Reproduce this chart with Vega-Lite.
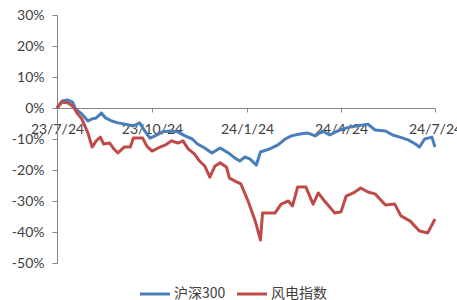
{
  "$schema": "https://vega.github.io/schema/vega-lite/v6.json",
  "width": 378,
  "height": 248,
  "autosize": {"type": "none"},
  "padding": {"left": 57, "top": 15, "right": 22, "bottom": 37},
  "background": "white",
  "config": {"view": {"stroke": null}, "font": "Lato"},
  "data": {"values": [
    {"date": "2023-07-24", "series": "沪深300", "value": 0.0},
    {"date": "2023-07-29", "series": "沪深300", "value": 2.3},
    {"date": "2023-08-03", "series": "沪深300", "value": 2.6},
    {"date": "2023-08-08", "series": "沪深300", "value": 1.9},
    {"date": "2023-08-11", "series": "沪深300", "value": -0.3},
    {"date": "2023-08-17", "series": "沪深300", "value": -1.9},
    {"date": "2023-08-23", "series": "沪深300", "value": -4.2},
    {"date": "2023-08-27", "series": "沪深300", "value": -3.5},
    {"date": "2023-08-31", "series": "沪深300", "value": -3.2},
    {"date": "2023-09-05", "series": "沪深300", "value": -1.6},
    {"date": "2023-09-09", "series": "沪深300", "value": -3.2},
    {"date": "2023-09-15", "series": "沪深300", "value": -4.2},
    {"date": "2023-09-21", "series": "沪深300", "value": -4.8},
    {"date": "2023-09-28", "series": "沪深300", "value": -5.2},
    {"date": "2023-10-06", "series": "沪深300", "value": -5.8},
    {"date": "2023-10-12", "series": "沪深300", "value": -4.8},
    {"date": "2023-10-17", "series": "沪深300", "value": -7.4},
    {"date": "2023-10-22", "series": "沪深300", "value": -9.7},
    {"date": "2023-10-27", "series": "沪深300", "value": -9.0},
    {"date": "2023-11-03", "series": "沪深300", "value": -7.7},
    {"date": "2023-11-10", "series": "沪深300", "value": -7.4},
    {"date": "2023-11-18", "series": "沪深300", "value": -7.7},
    {"date": "2023-11-25", "series": "沪深300", "value": -9.0},
    {"date": "2023-12-02", "series": "沪深300", "value": -10.0},
    {"date": "2023-12-07", "series": "沪深300", "value": -11.6},
    {"date": "2023-12-14", "series": "沪深300", "value": -12.9},
    {"date": "2023-12-21", "series": "沪深300", "value": -14.5},
    {"date": "2023-12-29", "series": "沪深300", "value": -12.9},
    {"date": "2024-01-06", "series": "沪深300", "value": -14.5},
    {"date": "2024-01-12", "series": "沪深300", "value": -16.1},
    {"date": "2024-01-17", "series": "沪深300", "value": -17.1},
    {"date": "2024-01-22", "series": "沪深300", "value": -15.8},
    {"date": "2024-01-27", "series": "沪深300", "value": -16.5},
    {"date": "2024-02-02", "series": "沪深300", "value": -18.4},
    {"date": "2024-02-06", "series": "沪深300", "value": -14.2},
    {"date": "2024-02-15", "series": "沪深300", "value": -13.2},
    {"date": "2024-02-23", "series": "沪深300", "value": -11.9},
    {"date": "2024-03-01", "series": "沪深300", "value": -10.0},
    {"date": "2024-03-07", "series": "沪深300", "value": -9.0},
    {"date": "2024-03-15", "series": "沪深300", "value": -8.4},
    {"date": "2024-03-23", "series": "沪深300", "value": -8.1},
    {"date": "2024-03-30", "series": "沪深300", "value": -9.0},
    {"date": "2024-04-06", "series": "沪深300", "value": -7.4},
    {"date": "2024-04-13", "series": "沪深300", "value": -8.7},
    {"date": "2024-04-19", "series": "沪深300", "value": -7.7},
    {"date": "2024-04-25", "series": "沪深300", "value": -6.8},
    {"date": "2024-05-03", "series": "沪深300", "value": -6.1},
    {"date": "2024-05-09", "series": "沪深300", "value": -5.8},
    {"date": "2024-05-20", "series": "沪深300", "value": -5.2},
    {"date": "2024-05-27", "series": "沪深300", "value": -7.1},
    {"date": "2024-06-06", "series": "沪深300", "value": -7.4},
    {"date": "2024-06-13", "series": "沪深300", "value": -8.7},
    {"date": "2024-06-20", "series": "沪深300", "value": -9.4},
    {"date": "2024-06-28", "series": "沪深300", "value": -10.3},
    {"date": "2024-07-05", "series": "沪深300", "value": -11.6},
    {"date": "2024-07-09", "series": "沪深300", "value": -12.6},
    {"date": "2024-07-14", "series": "沪深300", "value": -10.0},
    {"date": "2024-07-21", "series": "沪深300", "value": -9.4},
    {"date": "2024-07-24", "series": "沪深300", "value": -12.6},
    {"date": "2023-07-24", "series": "风电指数", "value": 0.0},
    {"date": "2023-07-29", "series": "风电指数", "value": 1.9},
    {"date": "2023-08-04", "series": "风电指数", "value": 1.6},
    {"date": "2023-08-09", "series": "风电指数", "value": 0.3},
    {"date": "2023-08-13", "series": "风电指数", "value": -1.9},
    {"date": "2023-08-17", "series": "风电指数", "value": -3.5},
    {"date": "2023-08-23", "series": "风电指数", "value": -8.1},
    {"date": "2023-08-27", "series": "风电指数", "value": -12.6},
    {"date": "2023-08-31", "series": "风电指数", "value": -10.6},
    {"date": "2023-09-04", "series": "风电指数", "value": -9.4},
    {"date": "2023-09-07", "series": "风电指数", "value": -11.6},
    {"date": "2023-09-13", "series": "风电指数", "value": -11.3},
    {"date": "2023-09-17", "series": "风电指数", "value": -13.2},
    {"date": "2023-09-21", "series": "风电指数", "value": -14.5},
    {"date": "2023-09-27", "series": "风电指数", "value": -12.6},
    {"date": "2023-10-03", "series": "风电指数", "value": -12.6},
    {"date": "2023-10-06", "series": "风电指数", "value": -9.7},
    {"date": "2023-10-15", "series": "风电指数", "value": -9.7},
    {"date": "2023-10-19", "series": "风电指数", "value": -12.3},
    {"date": "2023-10-24", "series": "风电指数", "value": -13.9},
    {"date": "2023-10-30", "series": "风电指数", "value": -12.9},
    {"date": "2023-11-06", "series": "风电指数", "value": -11.9},
    {"date": "2023-11-12", "series": "风电指数", "value": -10.6},
    {"date": "2023-11-18", "series": "风电指数", "value": -11.3},
    {"date": "2023-11-23", "series": "风电指数", "value": -10.6},
    {"date": "2023-11-28", "series": "风电指数", "value": -13.2},
    {"date": "2023-12-04", "series": "风电指数", "value": -14.8},
    {"date": "2023-12-09", "series": "风电指数", "value": -17.1},
    {"date": "2023-12-14", "series": "风电指数", "value": -18.7},
    {"date": "2023-12-19", "series": "风电指数", "value": -22.3},
    {"date": "2023-12-24", "series": "风电指数", "value": -18.7},
    {"date": "2023-12-29", "series": "风电指数", "value": -17.7},
    {"date": "2024-01-04", "series": "风电指数", "value": -19.0},
    {"date": "2024-01-07", "series": "风电指数", "value": -22.6},
    {"date": "2024-01-12", "series": "风电指数", "value": -23.5},
    {"date": "2024-01-18", "series": "风电指数", "value": -24.5},
    {"date": "2024-01-25", "series": "风电指数", "value": -30.0},
    {"date": "2024-02-01", "series": "风电指数", "value": -36.5},
    {"date": "2024-02-06", "series": "风电指数", "value": -42.6},
    {"date": "2024-02-08", "series": "风电指数", "value": -33.9},
    {"date": "2024-02-20", "series": "风电指数", "value": -33.9},
    {"date": "2024-02-26", "series": "风电指数", "value": -31.0},
    {"date": "2024-03-04", "series": "风电指数", "value": -30.0},
    {"date": "2024-03-08", "series": "风电指数", "value": -31.6},
    {"date": "2024-03-13", "series": "风电指数", "value": -25.5},
    {"date": "2024-03-21", "series": "风电指数", "value": -25.5},
    {"date": "2024-03-28", "series": "风电指数", "value": -31.0},
    {"date": "2024-04-02", "series": "风电指数", "value": -27.4},
    {"date": "2024-04-08", "series": "风电指数", "value": -30.0},
    {"date": "2024-04-18", "series": "风电指数", "value": -33.9},
    {"date": "2024-04-24", "series": "风电指数", "value": -33.5},
    {"date": "2024-04-29", "series": "风电指数", "value": -28.4},
    {"date": "2024-05-06", "series": "风电指数", "value": -27.4},
    {"date": "2024-05-13", "series": "风电指数", "value": -25.8},
    {"date": "2024-05-20", "series": "风电指数", "value": -27.1},
    {"date": "2024-05-27", "series": "风电指数", "value": -27.7},
    {"date": "2024-06-06", "series": "风电指数", "value": -31.3},
    {"date": "2024-06-15", "series": "风电指数", "value": -31.0},
    {"date": "2024-06-21", "series": "风电指数", "value": -34.8},
    {"date": "2024-06-30", "series": "风电指数", "value": -36.5},
    {"date": "2024-07-09", "series": "风电指数", "value": -39.7},
    {"date": "2024-07-17", "series": "风电指数", "value": -40.3},
    {"date": "2024-07-24", "series": "风电指数", "value": -35.8}
  ]},
  "mark": {"type": "line", "strokeWidth": 3, "strokeJoin": "round"},
  "encoding": {
    "x": {
      "field": "date",
      "type": "temporal",
      "scale": {
        "type": "utc",
        "nice": false,
        "domain": [
          {"year": 2023, "month": 7, "date": 24, "utc": true},
          {"year": 2024, "month": 7, "date": 24, "utc": true}
        ]
      },
      "axis": {
        "title": null,
        "orient": "bottom",
        "offset": -155,
        "values": [
          {"year": 2023, "month": 7, "date": 24, "utc": true},
          {"year": 2023, "month": 10, "date": 24, "utc": true},
          {"year": 2024, "month": 1, "date": 24, "utc": true},
          {"year": 2024, "month": 4, "date": 24, "utc": true},
          {"year": 2024, "month": 7, "date": 24, "utc": true}
        ],
        "format": "%y/%-m/%d",
        "labelFlush": false,
        "labelOverlap": false,
        "grid": false,
        "tickSize": 4,
        "labelPadding": 10,
        "domainColor": "#868686",
        "tickColor": "#868686",
        "labelColor": "#404040",
        "labelFontSize": 14
      }
    },
    "y": {
      "field": "value",
      "type": "quantitative",
      "scale": {"domain": [-50, 30], "nice": false, "zero": false},
      "axis": {
        "title": null,
        "values": [-50, -40, -30, -20, -10, 0, 10, 20, 30],
        "labelExpr": "datum.value + '%'",
        "grid": false,
        "tickSize": 5,
        "labelPadding": 8,
        "domainColor": "#868686",
        "tickColor": "#868686",
        "labelColor": "#404040",
        "labelFontSize": 14
      }
    },
    "color": {
      "field": "series",
      "type": "nominal",
      "scale": {"domain": ["沪深300", "风电指数"], "range": ["#4A7EBB", "#BE4B48"]},
      "legend": {
        "title": null,
        "orient": "none",
        "legendX": 89,
        "legendY": 270,
        "direction": "horizontal",
        "symbolType": "M-2,0L2,0",
        "symbolSize": 225,
        "symbolStrokeWidth": 3,
        "labelFont": "Noto Sans CJK SC",
        "labelFontSize": 14,
        "labelColor": "#404040",
        "labelOffset": 10,
        "columnPadding": 5
      }
    }
  }
}
